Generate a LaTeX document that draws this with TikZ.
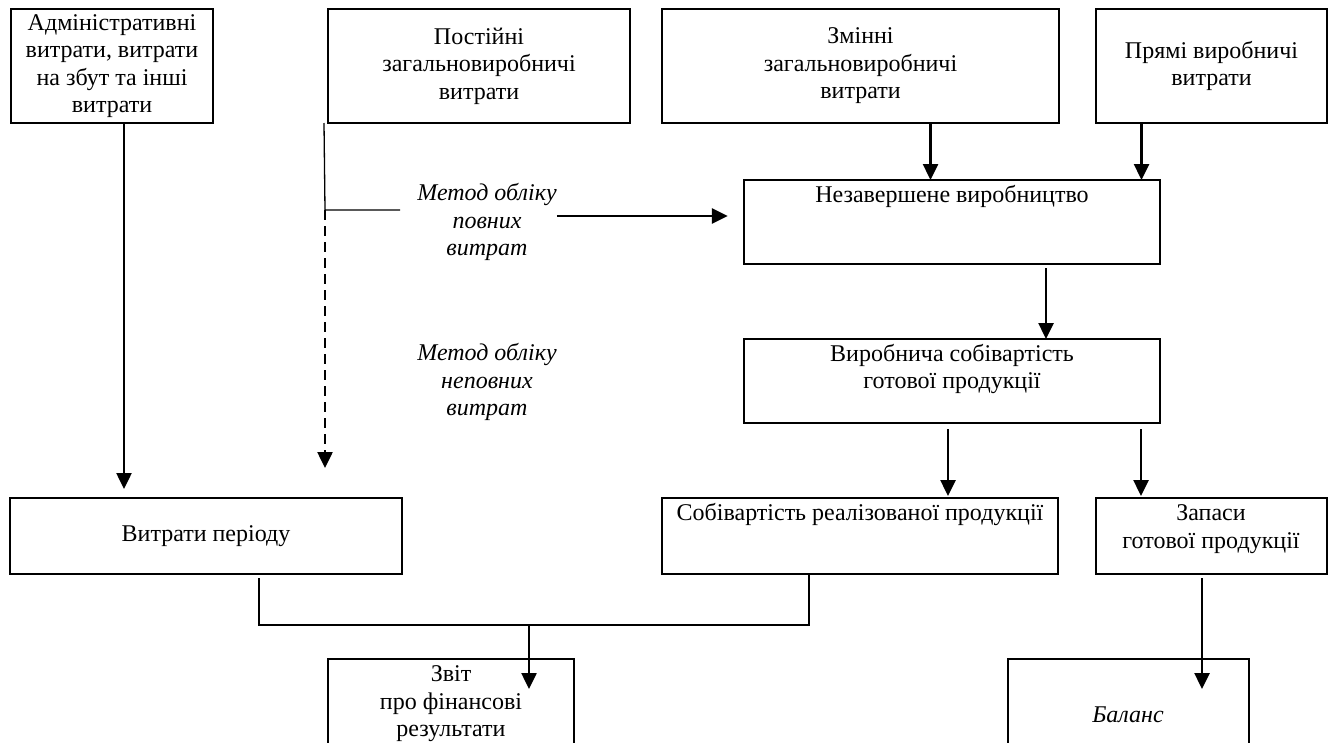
\documentclass[tikz,border=0pt]{standalone}
\usepackage{fontspec}
\setmainfont{Liberation Serif}
\usetikzlibrary{arrows.meta}
\newcommand\dfont{\fontsize{24}{27.5}\selectfont}
\begin{document}
\begin{tikzpicture}[x=1pt,y=-1pt,
  box/.style={draw, line width=2.6pt, inner sep=0pt, outer sep=0pt, anchor=north west, font=\dfont, align=center},
  txt/.style={inner sep=0pt, font=\dfont, align=center},
  itxt/.style={inner sep=0pt, font=\dfont\itshape, align=center},
  arr/.style={line width=2.5pt, -{Triangle[length=16pt,width=15pt]}},
  thinline/.style={line width=1.3pt},
  dashline/.style={line width=2.5pt, dash pattern=on 10pt off 6pt, -{Triangle[length=16pt,width=15pt]}}]
\useasboundingbox (0,0) rectangle (1329,742);
\clip (0,0) rectangle (1329,742);
\fill[white] (0,0) rectangle (1329,742);

% top row
\node[box, minimum width=202pt, minimum height=114pt] (A) at (11,9) {Адміністративні\\витрати, витрати\\на збут та інші\\витрати};
\node[box, minimum width=302pt, minimum height=114pt] (B) at (328,9) {Постійні\\загальновиробничі\\витрати};
\node[box, minimum width=397pt, minimum height=114pt] (C) at (662,9) {Змінні\\загальновиробничі\\витрати};
\node[box, minimum width=231pt, minimum height=114pt] (D) at (1096,9) {Прямі виробничі\\витрати};

% middle
\node[box, minimum width=416pt, minimum height=84pt] (E) at (744,180) {};
\node[txt] (Et) at (952,196) {Незавершене виробництво};
\node[box, minimum width=416pt, minimum height=84pt] (F) at (744,339) {};
\node[txt] (Ft) at (952,369) {Виробнича собівартість\\готової продукції};

% labels
\node[itxt] (L1) at (487,222) {Метод обліку\\повних\\витрат};
\node[itxt] (L2) at (487,382) {Метод обліку\\неповних\\витрат};

% lower row
\node[box, minimum width=392pt, minimum height=76pt] (J) at (10,498) {Витрати періоду};
\node[box, minimum width=396pt, minimum height=76pt] (G) at (662,498) {};
\node[txt] (Gt) at (860,514) {Собівартість реалізованої продукції};
\node[box, minimum width=231pt, minimum height=76pt] (H) at (1096,498) {};
\node[txt] (Ht) at (1211,529) {Запаси\\готової продукції};

% bottom
\node[box, minimum width=246pt, minimum height=120pt] (K) at (328,659) {};
\node[txt] (Kt) at (451,704) {Звіт\\про фінансові\\результати};
\node[box, minimum width=241pt, minimum height=120pt] (I) at (1008,659) {};
\node[itxt] (It) at (1128,715) {Баланс};

% connectors
\draw[arr] ([xshift=12pt]A.south) -- ++(0,366);

\coordinate (bsplit) at (325,210);
\coordinate (bend) at (400,210);
\draw[thinline] ([xshift=-4pt]B.south west) -- (bsplit) -- (bend);
\draw[dashline] (bsplit) -- ++(0,258);

\draw[arr] ([yshift=6pt]L1.east) -- ++(171,0);

\draw[arr] ([xshift=70pt]C.south) -- ++(0,57);
\draw[arr] ([xshift=-70pt]D.south) -- ++(0,57);
\draw[arr] ([xshift=94pt,yshift=-4pt]E.south) -- ++(0,71);
\draw[arr] ([xshift=-4pt,yshift=-6pt]F.south) -- ++(0,67);
\draw[arr] ([xshift=189pt,yshift=-6pt]F.south) -- ++(0,67);
\draw[arr] ([xshift=-9.5pt,yshift=-4pt]H.south) -- ++(0,111);

\draw[thinline] ([xshift=53pt,yshift=-4pt]J.south) -- ++(0,47) -| ([xshift=-51pt]G.south);
\draw[arr] ([xshift=78pt,yshift=34pt]K.north) -- ++(0,64);
\end{tikzpicture}
\end{document}
